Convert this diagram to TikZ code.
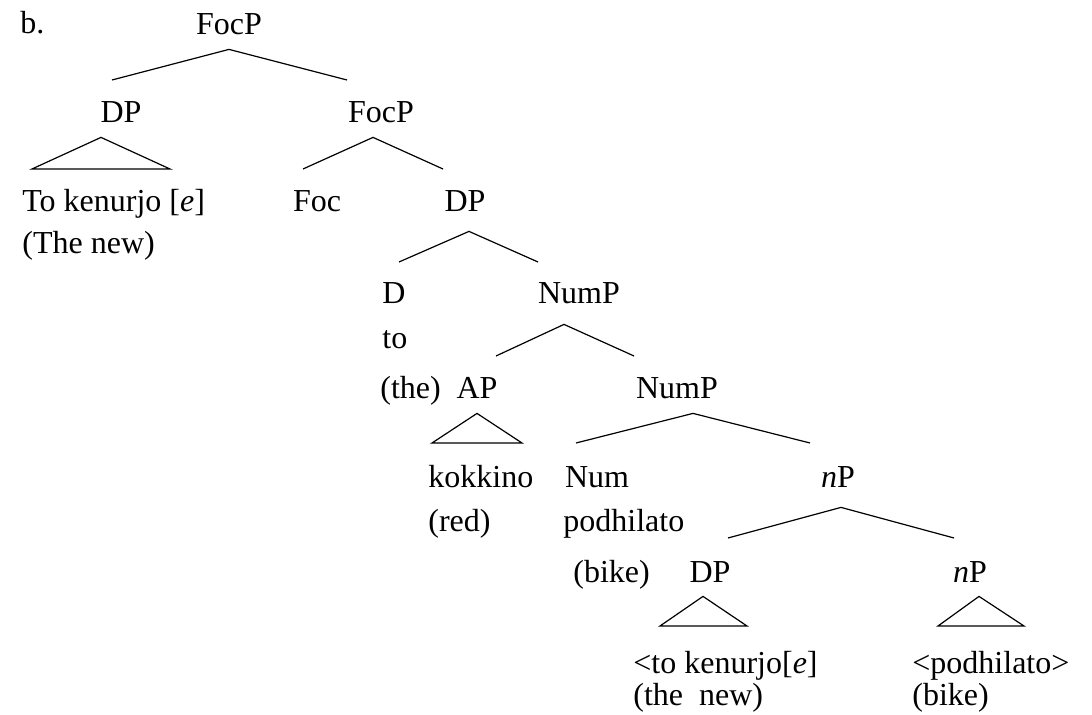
\documentclass[tikz,border=0pt]{standalone}
\usepackage{fontspec}
\setmainfont{Liberation Serif}
\tikzset{
  cat/.style={anchor=base, inner sep=0pt, text depth=7pt, font=\fontsize{16}{18}\selectfont},
  word/.style={cat, anchor=base west},
  branch/.style={line width=.6pt, line join=miter}
}

\begin{document}
\begin{tikzpicture}[x=.5pt, y=-.5pt]
        \useasboundingbox (0,0) rectangle (1092,715);

        %%% labels %%%
        \node[word] (ex) at (20,34) {b.};
        \node[cat] (focp) at (229,35) {FocP};
        \node[cat] (dpa) at (121,123) {DP};
        \node[cat] (focpb) at (381,123) {FocP};
        \node[word] (tokenurjo) at (22,212) {To kenurjo [\textit{e}]};
        \node[word] (thenew) at (22,254) {(The new)};
        \node[cat] (foc) at (317,212) {Foc};
        \node[cat] (dpb) at (465,212) {DP};
        \node[word] (d) at (382,304) {D};
        \node[cat] (numpa) at (579,304) {NumP};
        \node[word] (to) at (382,349) {to};
        \node[word] (the) at (380,399) {(the)};
        \node[cat] (ap) at (477,399) {AP};
        \node[cat] (numpb) at (677,399) {NumP};
        \node[word] (kokkino) at (428,488) {kokkino};
        \node[cat] (num) at (597,488) {Num};
        \node[cat] (npa) at (838,488) {\textit{n}P};
        \node[word] (red) at (428,532) {(red)};
        \node[word] (podhilato) at (563,532) {podhilato};
        \node[word] (bikea) at (573,582) {(bike)};
        \node[cat] (dpc) at (710,582) {DP};
        \node[cat] (npb) at (970,582) {\textit{n}P};
        \node[word] (tokenurjob) at (633,673) {<to kenurjo[\textit{e}]};
        \node[word] (thenewb) at (633,705) {(the\ \ new)};
        \node[word] (podhilatob) at (912,673) {<podhilato>};
        \node[word] (bikeb) at (912,705) {(bike)};

        %%% feet of branches %%%
        \coordinate (focp-l) at (112,80);   \coordinate (focp-r) at (347,80);
        \coordinate (dpa-l) at (32,169);    \coordinate (dpa-r) at (170,169);
        \coordinate (focpb-l) at (303,169); \coordinate (focpb-r) at (443,169);
        \coordinate (dpb-l) at (399,262);   \coordinate (dpb-r) at (538,262);
        \coordinate (numpa-l) at (496,356); \coordinate (numpa-r) at (634,356);
        \coordinate (ap-l) at (432,443);    \coordinate (ap-r) at (522,443);
        \coordinate (numpb-l) at (576,443); \coordinate (numpb-r) at (810,443);
        \coordinate (npa-l) at (728,538);   \coordinate (npa-r) at (954,538);
        \coordinate (dpc-l) at (660,626);   \coordinate (dpc-r) at (747,626);
        \coordinate (npb-l) at (938,626);   \coordinate (npb-r) at (1024,626);

        %%% branches %%%
        \draw[branch] (focp-l) -- (focp.south) -- (focp-r);
        \draw[branch] ([xshift=-10pt]dpa.south) -- (dpa-r) -- (dpa-l) -- cycle;
        \draw[branch] (focpb-l) -- ([xshift=-4pt]focpb.south) -- (focpb-r);
        \draw[branch] (dpb-l) -- ([shift={(4,5)}]dpb.south) -- (dpb-r);
        \draw[branch] (numpa-l) -- ([shift={(-15,6)}]numpa.south) -- (numpa-r);
        \draw[branch] (ap.south) -- (ap-r) -- (ap-l) -- cycle;
        \draw[branch] (numpb-l) -- ([xshift=8pt]numpb.south) -- (numpb-r);
        \draw[branch] (npa-l) -- ([shift={(3,5)}]npa.south) -- (npa-r);
        \draw[branch] ([xshift=-3.5pt]dpc.south) -- (dpc-r) -- (dpc-l) -- cycle;
        \draw[branch] ([xshift=4.5pt]npb.south) -- (npb-r) -- (npb-l) -- cycle;

\end{tikzpicture}
\end{document}
